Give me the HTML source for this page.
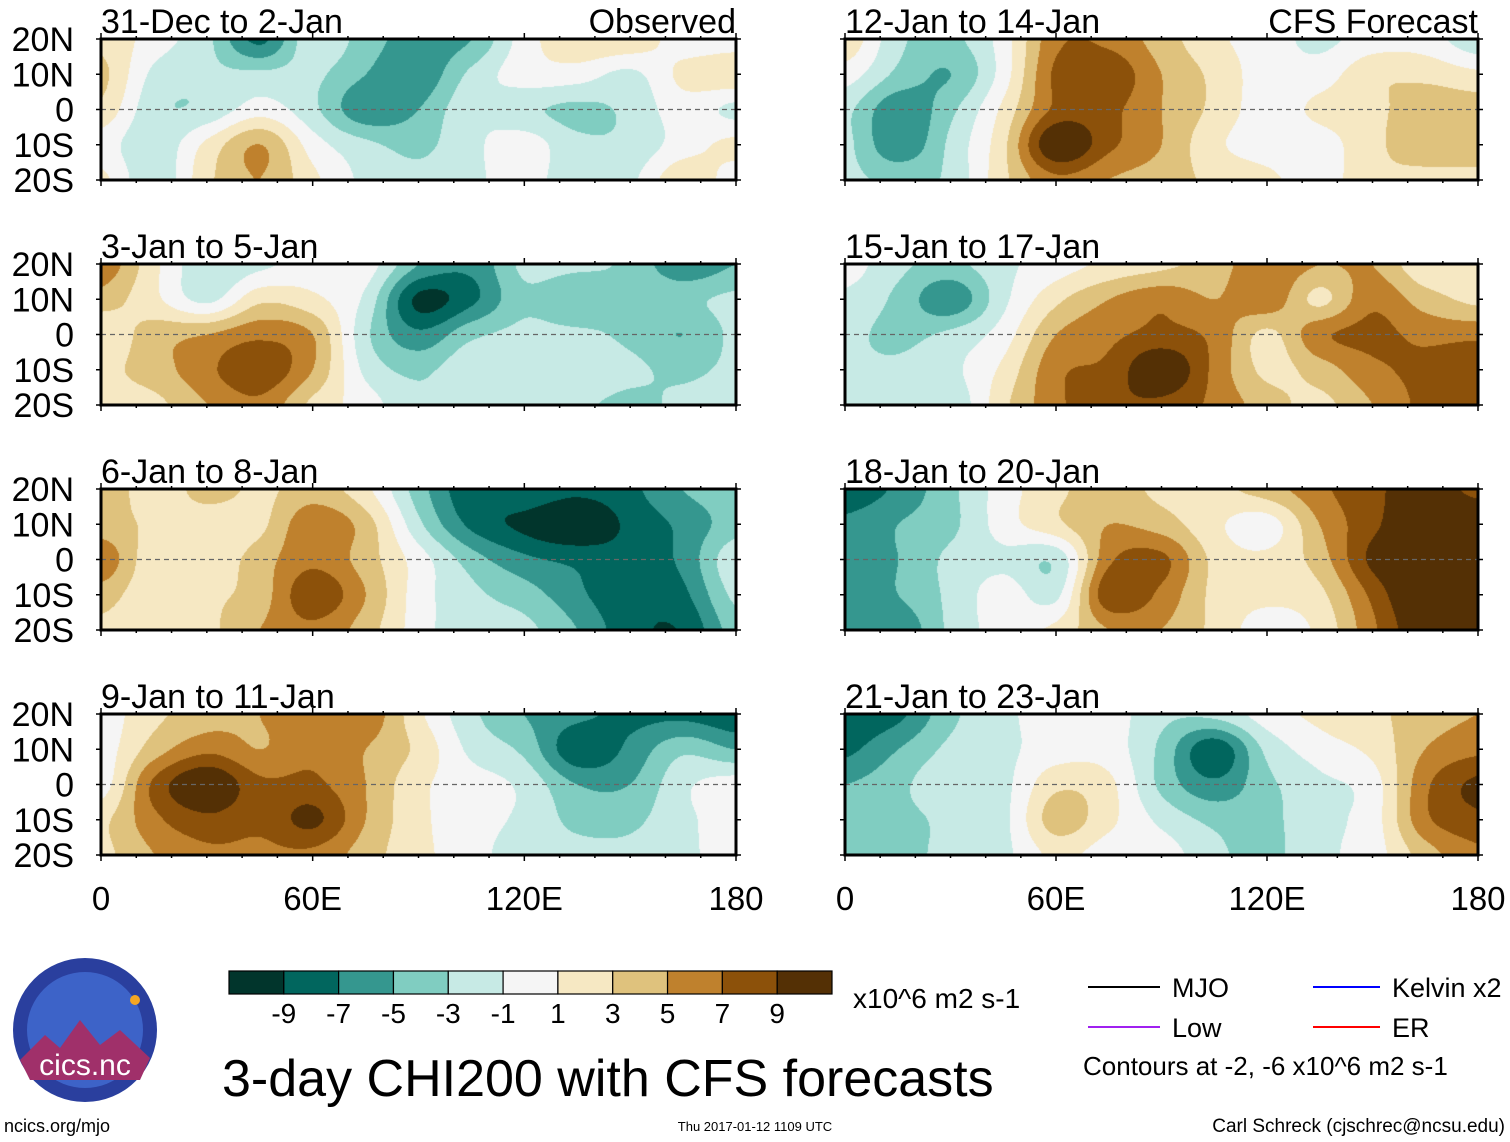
<!DOCTYPE html>
<html><head><meta charset="utf-8"><style>
html,body{margin:0;padding:0;background:#fff;}
#wrap{position:relative;width:1510px;height:1142px;overflow:hidden;font-family:"Liberation Sans",sans-serif;}
canvas,svg{position:absolute;left:0;top:0;}
</style></head><body>
<div id="wrap">
<canvas id="cv" width="1510" height="1142"></canvas>
<svg id="sv" width="1510" height="1142" xmlns="http://www.w3.org/2000/svg"></svg>
</div>
<script>
// ---- data: CHI200 anomaly grid, lon 0..180 step 15, lat rows 20N,10N,0,10S,20S ----
const lons = [0,15,30,45,60,75,90,105,120,135,150,165,180];
const lats = [20,10,0,-10,-20];
const panelTitles = ["31-Dec to 2-Jan","3-Jan to 5-Jan","6-Jan to 8-Jan","9-Jan to 11-Jan","12-Jan to 14-Jan","15-Jan to 17-Jan","18-Jan to 20-Jan","21-Jan to 23-Jan"];
const levelLabels = ["-9","-7","-5","-3","-1","1","3","5","7","9"];
const latLabels = ["20N","10N","0","10S","20S"];
const lonLabels = ["0","60E","120E","180"];
const lonTicks = [0,60,120,180];
const colors = ["#01352c","#01665e","#35978f","#80cdc1","#c7eae5","#f5f5f5","#f6e8c3","#dfc27d","#bf812d","#8c510a","#543005"];
const p1 = [[2.5,0,-2.5,-7.5,-1.5,-4,-6,-5,0,2.5,2.5,0,0],[3.5,-1.5,-2.5,-2.5,-2.5,-5,-6.5,-2.5,0,0,-1.5,1.5,2.5],[2.5,-2.5,-2.5,0,-2.5,-6.5,-5,-1.5,-2.5,-3.5,-2.5,0,-1.5],[0,-2.5,1.5,5,0,-2.5,-3.5,-1.5,0,-2.5,-2.5,0,1.5],[1.5,-2.5,2.5,5,1.5,-1.5,-2.5,-1.5,0,-2.5,-1.5,2.5,0]];
const p2 = [[6.5,1.5,-2.5,-1.5,0,0,-5,-6.5,-2.5,-2.5,-3.5,-6.5,-5],[4,1.5,-1.5,2.5,1.5,-1.5,-9.5,-7.5,-3.5,-5,-3.5,-3.5,-2.5],[1.5,4,5,6.5,5,-2.5,-6.5,-3.5,-2.5,-2.5,-3.5,-5,-2.5],[2.5,4,6.5,8.5,5,-1.5,-3.5,-1.5,-2.5,-1.5,-2.5,-3.5,-2.5],[2.5,2.5,5,6.5,2.5,0,-2.5,-1.5,-1.5,-2.5,-3.5,-2.5,-1.5]];
const p3 = [[5,1.5,4,2.5,4,1.5,-4,-8.5,-7.5,-8.5,-7.5,-5,-4],[4,2.5,1.5,2.5,6.5,4,-2.5,-7.5,-9.5,-11,-8.5,-6.5,-4],[6.5,1.5,1.5,4,6.5,4,0,-4,-6.5,-7.5,-8.2,-6.5,-1.5],[4,1.5,2.5,4,8.5,5,0,-2.5,-4,-6.5,-8.6,-7.5,-2.5],[2.5,1.5,2.5,5,6.5,4,0,-2.5,-2.5,-5,-8.3,-8.8,-4]];
const p4 = [[0,2.5,4,5,6.5,6.5,1.5,-2.5,-5,-6.5,-7.5,-7.5,-8.5],[0,4,6.5,5,6.5,5,2.5,-1.5,-3.5,-8.5,-6.5,-3.5,-5],[0,7.5,11,7.5,7.5,5,1.5,0,-1.5,-5,-5,-1.5,0],[2.5,6.5,8.5,7.5,9.5,5,1.5,0,-1.5,-3.5,-3.5,-1.5,0],[2.5,5,6.5,6.5,6.5,4,1.5,0,-2.5,-2.5,-2.5,-1.5,0]];
const p5 = [[2.5,-2.5,-3.5,0,6.5,6.5,4,1.5,0,-1.5,0,0,-2.5],[0,-3.5,-5,0,7.5,8.5,5,2.5,0,0,2.5,2.5,1.5],[-2.5,-6.5,-3.5,1.5,7.5,7.5,5,2.5,0,1.5,2.5,4,4],[-2.5,-6.5,-2.5,2.5,11,7.5,5,1.5,0,0,2.5,4,4],[-2.5,-3.5,-2.5,2.5,6.5,5,4,2.5,1.5,0,2.5,2.5,2.5]];
const p6 = [[0,-2.5,-3.5,-1.5,0,1.5,2.5,4,6.5,5,5,1.5,2.5],[-1.5,-3.5,-6.5,-1.5,2.5,5,6.5,5,6.5,2.5,6.5,4,2.5],[-2.5,-3.5,-2.5,0,5,6.5,7.5,6.5,2.5,6.5,7.5,6.5,6.5],[-2.5,-2.5,-1.5,1.5,6.5,7.5,11,6.5,2.5,4,6.5,7.5,8.5],[-1.5,-1.5,-2.5,2.5,6.5,8.5,8.5,6.5,4,2.5,5,7.5,7.5]];
const p7 = [[-8.5,-6.5,-3.5,0,2.5,4,2.5,2.5,4,6.5,8.5,10,8.5],[-6.5,-5,-3.5,0,2.5,5,4,1.5,0,5,8.5,11,11],[-6.5,-5,-2.5,-1.5,-2.5,6.5,7.5,2.5,1.5,4,9.5,12,12],[-6.5,-5,-2.5,0,-1.5,8.5,6.5,2.5,1.5,2.5,7.5,12,12],[-5,-6.5,-2.5,0,1.5,5,5,2.5,0,1.5,6.5,11,12]];
const p8 = [[-8.5,-7.5,-3.5,-1.5,0,0,-2.5,-2.5,0,1.5,2.5,4,5],[-7.5,-5,-2.5,-1.5,0,0,-3.5,-8.5,-2.5,0,1.5,5,6.5],[-5,-3.5,-1.5,-1.5,2.5,1.5,-3.5,-6.5,-3.5,-1.5,0,6.5,9.5],[-3.5,-3.5,-2.5,-1.5,4,1.5,-1.5,-3.5,-3.5,-1.5,0,6.5,8.5],[-3.5,-3.5,-2.5,-1.5,1.5,0,0,-2.5,-3.5,-1.5,0,4,6.5]];
const panels = [p1,p2,p3,p4,p5,p6,p7,p8];

// ---- layout ----
const panelTops = [39,264,489,714];
const colLeft = [101,845], colW = [635,633], PH = 141;
function xScale(c,lon){return colLeft[c]+lon/180*colW[c];}
function yScale(r,lat){return panelTops[r]+(20-lat)/40*PH;}
function levelIndex(v){return Math.max(0,Math.min(10,Math.floor((v+11)/2)));}
function hex(c){return [parseInt(c.slice(1,3),16),parseInt(c.slice(3,5),16),parseInt(c.slice(5,7),16)];}
const rgb = colors.map(hex);
function cr(p0,p1,p2,p3,t){return 0.5*((2*p1)+(-p0+p2)*t+(2*p0-5*p1+4*p2-p3)*t*t+(-p0+3*p1-3*p2+p3)*t*t*t);}
function sample(g,fx,fy){
  const nx=g[0].length, ny=g.length;
  const ix=Math.min(nx-2,Math.floor(fx)), iy=Math.min(ny-2,Math.floor(fy));
  const tx=fx-ix, ty=fy-iy;
  const get=(r,c)=>g[Math.max(0,Math.min(ny-1,r))][Math.max(0,Math.min(nx-1,c))];
  const rows=[];
  for(let k=-1;k<=2;k++){const r=iy+k;rows.push(cr(get(r,ix-1),get(r,ix),get(r,ix+1),get(r,ix+2),tx));}
  return cr(rows[0],rows[1],rows[2],rows[3],ty);
}
const ctx=document.getElementById('cv').getContext('2d');
panels.forEach((g,i)=>{
  const c=i<4?0:1, r=i%4;
  const x0=Math.round(xScale(c,lons[0])), x1=Math.round(xScale(c,lons[lons.length-1]));
  const y0=Math.round(yScale(r,lats[0])), y1=Math.round(yScale(r,lats[lats.length-1]));
  const w=x1-x0, h=y1-y0;
  const img=ctx.createImageData(w,h);
  for(let py=0;py<h;py++){
    const fy=py/(h-1)*(lats.length-1);
    for(let px=0;px<w;px++){
      const fx=px/(w-1)*(lons.length-1);
      const col=rgb[levelIndex(sample(g,fx,fy))];
      const o=(py*w+px)*4;
      img.data[o]=col[0];img.data[o+1]=col[1];img.data[o+2]=col[2];img.data[o+3]=255;
    }
  }
  ctx.putImageData(img,x0,y0);
});

// ---- overlay ----
const sv=document.getElementById('sv');
const NS="http://www.w3.org/2000/svg";
function mk(tag,attrs,parent){const e=document.createElementNS(NS,tag);for(const k in attrs)e.setAttribute(k,attrs[k]);(parent||sv).appendChild(e);return e;}
function txt(s,attrs,parent){const e=mk('text',attrs,parent);e.textContent=s;return e;}

panels.forEach((g,i)=>{
  const c=i<4?0:1, r=i%4;
  const grp=mk('g',{});
  
  
  const x0=xScale(c,0), x1=xScale(c,180), y0=yScale(r,20), y1=yScale(r,-20);
  const eq=mk('line',{x1:x0,x2:x1,y1:yScale(r,0),y2:yScale(r,0),stroke:'#666','stroke-width':1.3,'stroke-dasharray':'5,4'},grp);
  
  
  for(let lon=0;lon<=180;lon+=10){
    const xx=xScale(c,lon), big=lon%60===0;
    mk('line',{x1:xx,x2:xx,y1:y0-(big?6:3),y2:y0,stroke:'#000','stroke-width':1.5},grp);
    mk('line',{x1:xx,x2:xx,y1:y1,y2:y1+(big?6:3),stroke:'#000','stroke-width':1.5},grp);
  }
  for(let lat=-20;lat<=20;lat+=10){
    const yy=yScale(r,lat);
    mk('line',{x1:x0-5,x2:x0,y1:yy,y2:yy,stroke:'#000','stroke-width':1.5},grp);
    mk('line',{x1:x1,x2:x1+5,y1:yy,y2:yy,stroke:'#000','stroke-width':1.5},grp);
  }
  const fr=mk('rect',{x:x0,y:y0,width:x1-x0,height:y1-y0,fill:'none',stroke:'#000','stroke-width':3},grp);
  
  
  const t=txt(panelTitles[i],{x:x0,y:y0-6,'font-size':34,fill:'#000'},grp);
  
  
  if(c===0){
    latLabels.forEach((lb,k)=>{
      const e=txt(lb,{x:74,y:yScale(r,lats[k])+12,'font-size':34,'text-anchor':'end',fill:'#000'},grp);
      
      
    });
  }
});
const obs=txt("Observed",{x:736,y:33,'font-size':34,'text-anchor':'end'});


const cfs=txt("CFS Forecast",{x:1478,y:33,'font-size':34,'text-anchor':'end'});


[0,1].forEach(c=>{
  lonTicks.forEach((lon,k)=>{
    const e=txt(lonLabels[k],{x:xScale(c,lon),y:910,'font-size':33,'text-anchor':'middle'});
    
    
  });
});

// colorbar
const cbX=229, cbY=971, cbW=603, cbH=23, bw=cbW/colors.length;
colors.forEach((col,k)=>{
  const r=mk('rect',{x:cbX+k*bw,y:cbY,width:bw,height:cbH,fill:col,stroke:'#000','stroke-width':1.2});
  
  
});
levelLabels.forEach((lb,k)=>{
  const e=txt(lb,{x:cbX+(k+1)*bw,y:1023,'font-size':28,'text-anchor':'middle'});
  
  
});
const un=txt("x10^6 m2 s-1",{x:853,y:1008,'font-size':28});


const ttl=txt("3-day CHI200 with CFS forecasts",{x:222,y:1096,'font-size':52});



// legend
const legend=[["MJO","#000",1088,1160,1172,987],["Kelvin x2","#0000ff",1313,1380,1392,987],["Low","#a020f0",1088,1160,1172,1027],["ER","#ff0000",1313,1380,1392,1027]];
legend.forEach(l=>{
  const g=mk('g',{});
  
  
  mk('line',{x1:l[2],x2:l[3],y1:l[5],y2:l[5],stroke:l[1],'stroke-width':2},g);
  txt(l[0],{x:l[4],y:l[5]+10,'font-size':27},g);
});
const ct=txt("Contours at -2, -6 x10^6 m2 s-1",{x:1083,y:1075,'font-size':26});



// logo
const lg=mk('g',{});


mk('circle',{cx:85,cy:1030,r:72,fill:'#2a3f9e'},lg);
mk('circle',{cx:85,cy:1030,r:58,fill:'#3d63c8'},lg);
mk('path',{d:'M20,1060 L45,1035 L60,1048 L80,1020 L100,1045 L120,1030 L150,1058 L140,1080 L30,1080 Z',fill:'#a0306a'},lg);
mk('circle',{cx:135,cy:1000,r:5,fill:'#f5a623'},lg);
txt("cics.nc",{x:85,y:1075,'font-size':30,'text-anchor':'middle',fill:'#fff'},lg);

const f1=txt("ncics.org/mjo",{x:4,y:1132,'font-size':18});


const f2=txt("Thu 2017-01-12 1109 UTC",{x:755,y:1131,'font-size':13,'text-anchor':'middle'});


const f3=txt("Carl Schreck (cjschrec@ncsu.edu)",{x:1505,y:1132,'font-size':19,'text-anchor':'end'});


</script>
</body></html>
